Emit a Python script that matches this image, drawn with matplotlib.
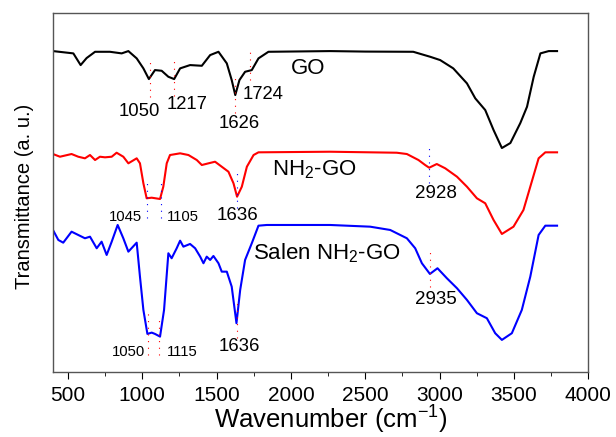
import numpy as np
import matplotlib.pyplot as plt

plt.rcParams['font.family'] = ['Liberation Sans', 'DejaVu Sans']
plt.rcParams['mathtext.default'] = 'regular'

# spectra (wavenumber, transmittance in arbitrary units)
go_w = [400, 537, 586, 626, 683, 783, 862, 907, 963, 1008, 1045, 1086, 1131, 1176, 1215,
        1255, 1322, 1401, 1457, 1513, 1569, 1602, 1626, 1654, 1692, 1737, 1782, 1849, 2264,
        2500, 2823, 2937, 3004, 3092, 3184, 3240, 3307, 3363, 3419, 3476, 3543, 3588, 3633,
        3678, 3734, 3790]
go_t = [321, 318.7, 307, 314, 320.3, 320.3, 318.7, 321, 313.7, 303.7, 293, 302, 301.3, 295.3,
        293, 303.7, 307, 306.3, 317, 320.3, 308.7, 292, 277, 292, 300.3, 302, 313.7, 320.3,
        321, 320.5, 320.3, 315.3, 312, 303.7, 288.7, 273.7, 262, 242, 224, 229, 249, 265.3,
        295.3, 318.7, 321, 321]

nh2_w = [400, 447, 525, 570, 615, 649, 683, 716, 750, 795, 828, 873, 907, 963, 985, 1008,
         1030, 1064, 1120, 1142, 1165, 1187, 1255, 1311, 1367, 1401, 1446, 1490, 1535, 1580,
         1614, 1638, 1670, 1704, 1749, 1782, 2264, 2712, 2780, 2858, 2903, 2930, 2981, 3038,
         3117, 3184, 3251, 3307, 3363, 3419, 3497, 3564, 3610, 3666, 3711, 3790]
nh2_t = [218, 215.3, 218, 215.3, 213.7, 217, 212, 215.3, 214.7, 215.3, 219.3, 215.3, 208.7,
         213.7, 208.7, 188.7, 173.7, 174.3, 173, 185.3, 208.7, 217, 218.7, 217, 212, 207,
         208.7, 210.3, 205.3, 200.3, 188.7, 175.3, 185.3, 205.3, 217, 219.7, 220.3, 219.3,
         218, 212, 207, 204.3, 208, 203.7, 195.3, 185.3, 173.7, 168.7, 152, 138, 145.3, 162,
         185.3, 213.7, 219.7, 219.7]

salen_w = [400, 436, 469, 525, 570, 615, 649, 694, 727, 761, 795, 835, 873, 907, 963, 985,
           1008, 1035, 1064, 1086, 1120, 1147, 1176, 1198, 1232, 1255, 1277, 1322, 1356, 1390,
           1412, 1434, 1457, 1479, 1513, 1535, 1569, 1602, 1634, 1659, 1692, 1737, 1782, 1838,
           2264, 2533, 2668, 2780, 2836, 2881, 2935, 2986, 3049, 3117, 3184, 3251, 3318, 3374,
           3419, 3486, 3553, 3610, 3666, 3711, 3790]
salen_t = [142, 132, 129.3, 140.3, 137, 133.7, 135.3, 123.7, 130.3, 117, 130.3, 147, 133.7,
           120.3, 129.3, 95.3, 62, 38, 39.3, 38, 35.3, 62, 118.7, 113.7, 123.7, 131.3, 125.3,
           128, 123.7, 115.3, 108.7, 115.3, 112, 116, 108.7, 100.3, 100.3, 85.3, 48.7, 82,
           112, 128.7, 146.3, 147, 147, 145.3, 142, 133.7, 123.7, 108.7, 98, 103.7, 93.7,
           83.7, 72, 58.7, 53.7, 38.7, 32, 38.7, 62, 95.3, 137, 146.3, 146.3]

# peak markers: wavenumber, marker bottom/top
go_peaks = [1050, 1217, 1626, 1724]
go_peak_lo = [275, 276, 259, 292]
go_peak_hi = [314, 315, 297, 320]
nh2_peaks = [1030, 1125, 1636, 2928]
nh2_peak_lo = [154, 154, 164, 189]
nh2_peak_hi = [194, 194, 204, 227]
salen_peaks = [1040, 1115, 1636, 2935]
salen_peak_lo = [17, 17, 34, 85]
salen_peak_hi = [59, 56, 73, 124]

fig = plt.figure(figsize=(6.16, 4.37), dpi=100)
ax = fig.add_axes([0.086, 0.149, 0.869, 0.821])

ax.plot(go_w, go_t, color='black', lw=1.5)
ax.plot(nh2_w, nh2_t, color='#ff0000', lw=1.5)
ax.plot(salen_w, salen_t, color='#0000ff', lw=1.5)

for peaks, lo, hi, c in [(go_peaks, go_peak_lo, go_peak_hi, 'red'),
                         (nh2_peaks, nh2_peak_lo, nh2_peak_hi, 'blue'),
                         (salen_peaks, salen_peak_lo, salen_peak_hi, 'red')]:
    for p, a, b in zip(peaks, lo, hi):
        ax.plot([p, p], [a, b], color=c, lw=0.8, ls=(0, (1, 5)))

# peak labels
kw = dict(ha='center', va='center', color='black')
ax.text(982, 261, '1050', fontsize=13.3, **kw)
ax.text(1302, 268, '1217', fontsize=13.3, **kw)
ax.text(1652, 249, '1626', fontsize=13.3, **kw)
ax.text(1810, 278, '1724', fontsize=13.3, **kw)
ax.text(2119, 304, 'GO', fontsize=16, **kw)

ax.text(888, 155, '1045', fontsize=10.7, **kw)
ax.text(1275, 155, '1105', fontsize=10.7, **kw)
ax.text(1638, 156, '1636', fontsize=13.5, **kw)
ax.text(2977, 178, '2928', fontsize=13.5, **kw)
ax.text(2160, 202, 'NH$_2$-GO', fontsize=16, **kw)

ax.text(908, 20, '1050', fontsize=10.7, **kw)
ax.text(1268, 20, '1115', fontsize=10.7, **kw)
ax.text(1655, 25, '1636', fontsize=13.3, **kw)
ax.text(2977, 72, '2935', fontsize=13.5, **kw)
ax.text(2240, 119, 'Salen NH$_2$-GO', fontsize=16, **kw)

ax.set_xlim(400, 4000)
ax.set_ylim(0, 359)
ax.set_xticks(np.arange(500, 4001, 500))
ax.set_xticks(np.arange(500, 4001, 250), minor=True)
ax.set_yticks([])
ax.tick_params(axis='x', which='major', direction='out', length=5, labelsize=15, pad=5)
ax.tick_params(axis='x', which='minor', direction='out', length=3)
for s in ax.spines.values():
    s.set_color('#555555')
    s.set_linewidth(1.0)

ax.set_xlabel('Wavenumber (cm$^{-1}$)', fontsize=18.5)
ax.xaxis.set_label_coords(0.52, -0.088)
ax.set_ylabel('Transmittance (a. u.)', fontsize=14.5)
ax.yaxis.set_label_coords(-0.035, 0.49)

fig.savefig('out.png', dpi=100)
